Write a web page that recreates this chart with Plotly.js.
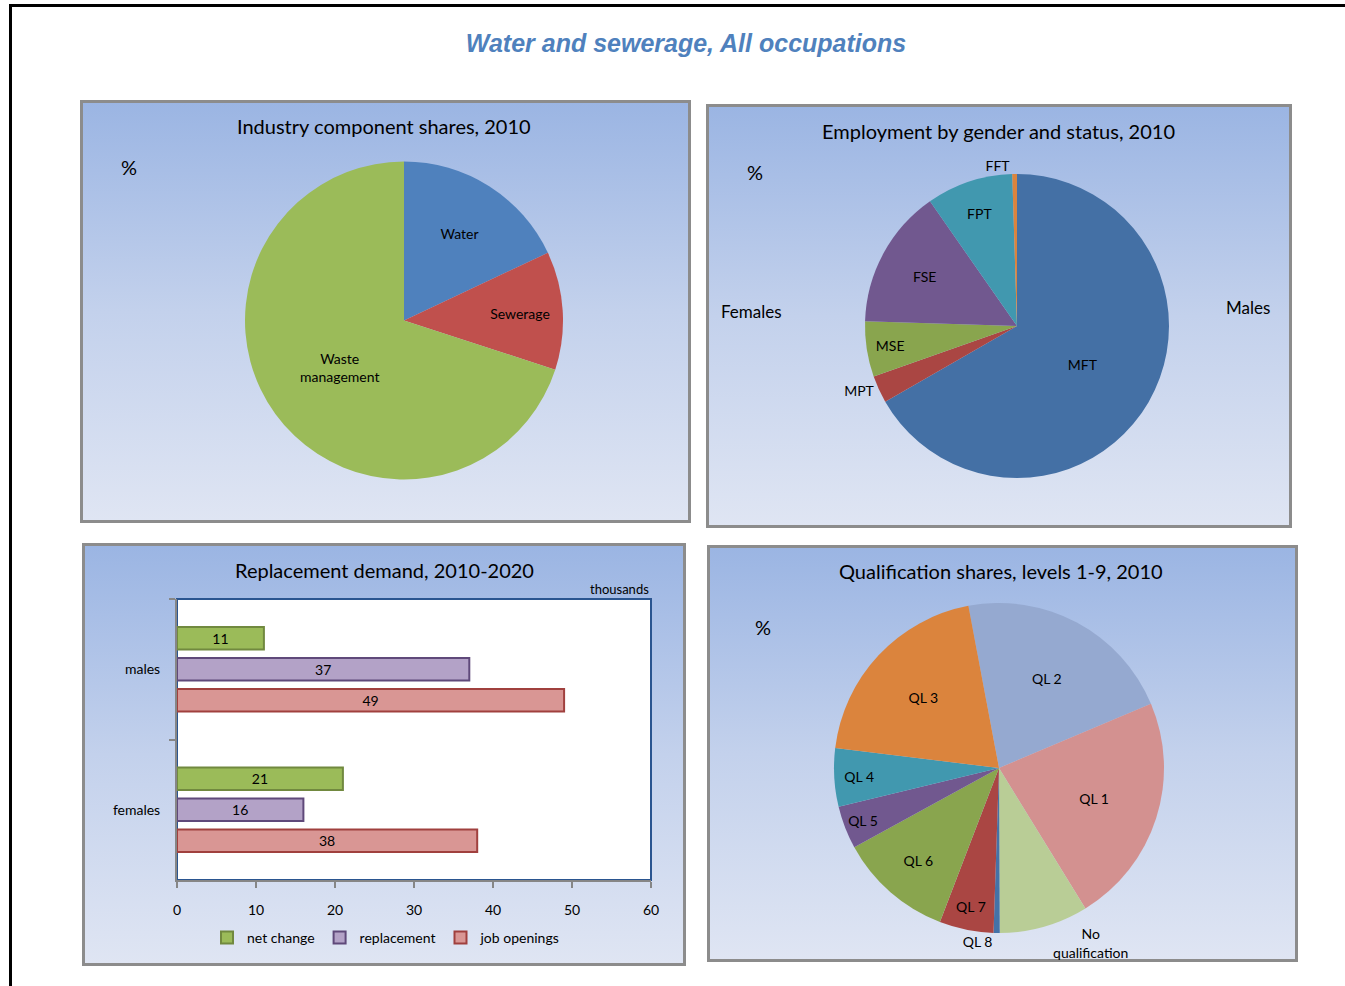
<!DOCTYPE html>
<html>
<head>
<meta charset="utf-8">
<script src="https://cdn.plot.ly/plotly-3.0.1.min.js"></script>
<style>
  html, body { margin:0; padding:0; background:#ffffff; }
  #wrap { position:relative; width:1345px; height:986px; overflow:hidden; background:#ffffff; }
  .frame { position:absolute; left:9px; top:4px; width:1345px; height:990px; border-top:3px solid #000; border-left:3px solid #000; box-sizing:border-box; }
  .panel { position:absolute; box-sizing:border-box; border:3px solid #8C8C8C;
           background:linear-gradient(to bottom, #9BB5E3 0%, #C3D1EC 50%, #DFE5F3 100%); }
  #plot { position:absolute; left:0; top:0; width:1345px; height:986px; }
</style>
</head>
<body>
<div id="wrap">
  <div class="frame"></div>
  <div class="panel" style="left:80px; top:100px; width:611px; height:423px;"></div>
  <div class="panel" style="left:706px; top:104px; width:586px; height:424px;"></div>
  <div class="panel" style="left:82px; top:543px; width:604px; height:423px;"></div>
  <div class="panel" style="left:707px; top:545px; width:591px; height:417px;"></div>
  <div id="plot"></div>
</div>
<script>
// ---------- data ----------
const industryLabels = ['Water', 'Sewerage', 'Waste management'];
const industryText   = ['Water', 'Sewerage', 'Waste<br>management'];
const industryValues = [18, 12, 70];
const industryColors = ['#4F81BD', '#C0504D', '#9BBB59'];

const genderLabels = ['MFT', 'MPT', 'MSE', 'FSE', 'FPT', 'FFT'];
const genderValues = [66.7, 2.9, 5.9, 14.8, 9.2, 0.5];
const genderColors = ['#4470A5', '#AA4643', '#89A54E', '#71588F', '#4198AF', '#DB843D'];
const genderTextPos = ['inside', 'outside', 'inside', 'inside', 'inside', 'outside'];

const qualLabels = ['QL 2', 'QL 1', 'No qualification', 'QL 8', 'QL 7', 'QL 6', 'QL 5', 'QL 4', 'QL 3'];
const qualText   = ['QL 2', 'QL 1', 'No<br>qualification', 'QL 8', 'QL 7', 'QL 6', 'QL 5', 'QL 4', 'QL 3'];
const qualValues = [21.6, 22.6, 8.7, 0.6, 5.3, 11.2, 4.2, 5.7, 20.1];
const qualColors = ['#95A9D0', '#D39190', '#B9CD96', '#4572A7', '#AA4643', '#89A54E', '#71588F', '#4198AF', '#DB843D'];
const qualTextPos = ['inside', 'inside', 'outside', 'outside', 'inside', 'inside', 'inside', 'inside', 'inside'];

const demandCategories = ['males', 'females'];
const netChange   = [11, 21];
const replacement = [37, 16];
const jobOpenings = [49, 38];

const xTicks = [0, 10, 20, 30, 40, 50, 60];

// ---------- helpers ----------
const W = 1345, H = 986;
const px = v => v / W;
const py = v => 1 - v / H;
const CAL = 'Lato, "Open Sans", sans-serif';

const pieBase = {
  type: 'pie', sort: false, direction: 'clockwise', textinfo: 'text',
  insidetextorientation: 'horizontal', hoverinfo: 'none', showlegend: false,
  textfont: { family: CAL, size: 14, color: '#000' },
  outsidetextfont: { family: CAL, size: 14, color: '#000' },
  insidetextfont: { family: CAL, size: 14, color: '#000' }
};

const traces = [
  Object.assign({}, pieBase, {
    labels: industryLabels, values: industryValues, text: industryText,
    marker: { colors: industryColors, line: { width: 0 } },
    rotation: 0, textposition: 'inside',
    domain: { x: [px(245), px(563)], y: [py(480), py(161)] }
  }),
  Object.assign({}, pieBase, {
    labels: genderLabels, values: genderValues, text: genderLabels,
    marker: { colors: genderColors, line: { width: 0 } },
    rotation: 0, textposition: genderTextPos,
    domain: { x: [px(865), px(1169)], y: [py(478), py(174)] }
  }),
  Object.assign({}, pieBase, {
    labels: qualLabels, values: qualValues, text: qualText,
    marker: { colors: qualColors, line: { width: 0 } },
    rotation: -10.7, textposition: qualTextPos,
    domain: { x: [px(834), px(1164)], y: [py(933), py(603)] }
  })
];

const barSeries = [
  { name: 'net change', x: netChange, fill: '#9BBB59', line: '#71893F' },
  { name: 'replacement', x: replacement, fill: '#B3A2C7', line: '#5F497A' },
  { name: 'job openings', x: jobOpenings, fill: '#D99694', line: '#A0403E' }
];
barSeries.forEach(s => {
  traces.push({
    type: 'bar', orientation: 'h', name: s.name,
    y: demandCategories, x: s.x, text: s.x.map(String),
    textposition: 'inside', insidetextanchor: 'middle', constraintext: 'none', textangle: 0,
    textfont: { family: CAL, size: 14, color: '#000' },
    marker: { color: s.fill, line: { color: s.line, width: 2 } },
    hoverinfo: 'none', xaxis: 'x', yaxis: 'y'
  });
});

const ann = (text, x, y, size, extra) => Object.assign({
  text: text, xref: 'paper', yref: 'paper', x: px(x), y: py(y),
  xanchor: 'center', yanchor: 'middle', showarrow: false,
  font: { family: CAL, size: size, color: '#000' }
}, extra || {});

const layout = {
  width: W, height: H,
  margin: { l: 0, r: 0, t: 0, b: 0 },
  paper_bgcolor: 'rgba(0,0,0,0)', plot_bgcolor: '#ffffff',
  title: {
    text: 'Water and sewerage, All occupations',
    x: px(686), y: py(43), xanchor: 'center', yanchor: 'middle',
    font: { family: '"Liberation Sans", Arial, sans-serif', size: 25, color: '#4F81BD', weight: 'bold', style: 'italic' }
  },
  barmode: 'group', bargap: 0.34, bargroupgap: 0.27,
  xaxis: {
    domain: [px(177), px(651)], range: [0, 60], tickvals: xTicks, ticktext: xTicks.map(String),
    showline: true, linecolor: '#868686', linewidth: 2, ticks: 'outside', ticklen: 6,
    tickcolor: '#868686', tickwidth: 2, showgrid: false, zeroline: false,
    tickfont: { family: CAL, size: 14, color: '#000' }, ticklabelstandoff: 10, fixedrange: true
  },
  yaxis: {
    domain: [py(880), py(599)], type: 'category', categoryorder: 'array', categoryarray: demandCategories,
    autorange: 'reversed', showline: true, linecolor: '#868686', linewidth: 2,
    ticks: 'outside', tickson: 'boundaries', ticklen: 6, tickcolor: '#868686', tickwidth: 2,
    showgrid: false, zeroline: false, tickfont: { family: CAL, size: 14, color: '#000' },
    ticklabelstandoff: 12, fixedrange: true
  },
  legend: {
    orientation: 'h', x: px(386), y: py(938), xanchor: 'center', yanchor: 'middle',
    font: { family: CAL, size: 14, color: '#000' }, bgcolor: 'rgba(0,0,0,0)',
    itemwidth: 30, tracegroupgap: 0
  },
  shapes: [{
    type: 'rect', xref: 'x domain', yref: 'y domain', x0: 0, x1: 1, y0: 0, y1: 1,
    line: { color: '#2A5590', width: 2 }, fillcolor: 'rgba(0,0,0,0)', layer: 'below'
  }],
  annotations: [
    ann('Industry component shares, 2010', 384, 126, 20),
    ann('Employment by gender and status, 2010', 998, 131, 20),
    ann('Replacement demand, 2010-2020', 384, 570, 20),
    ann('Qualification shares, levels 1-9, 2010', 1001, 571, 20),
    ann('%', 129, 167, 20),
    ann('%', 755, 172, 20),
    ann('%', 763, 627, 20),
    ann('Females', 751, 311, 17),
    ann('Males', 1248, 307, 17),
    ann('thousands', 651, 589, 13, { xanchor: 'right' })
  ]
};

Plotly.newPlot('plot', traces, layout, { staticPlot: true, displayModeBar: false });
</script>
</body>
</html>
